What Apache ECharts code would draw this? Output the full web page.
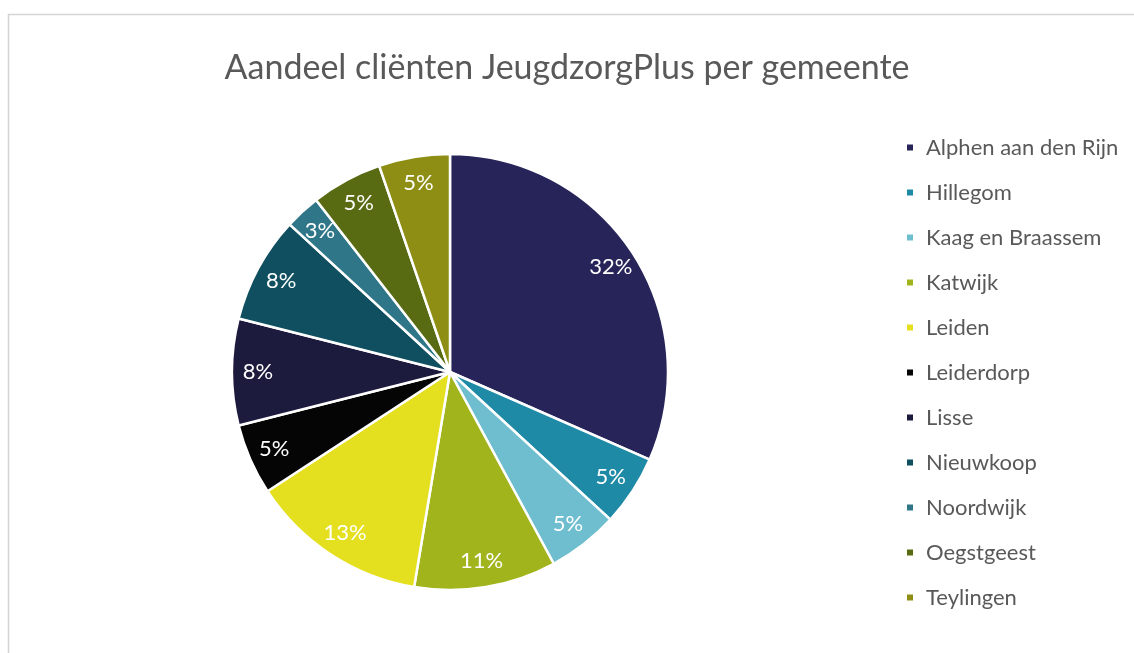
<!DOCTYPE html>
<html>
<head>
<meta charset="utf-8">
<title>Aandeel cliënten JeugdzorgPlus per gemeente</title>
<script src="https://cdn.jsdelivr.net/npm/echarts@6/dist/echarts.min.js"></script>
<style>
  html, body { margin: 0; padding: 0; background: #fff; }
  #chart { width: 1134px; height: 653px; }
</style>
</head>
<body>
<div id="chart"></div>
<script>
var gemeenten = ['Alphen aan den Rijn', 'Hillegom', 'Kaag en Braassem', 'Katwijk', 'Leiden',
  'Leiderdorp', 'Lisse', 'Nieuwkoop', 'Noordwijk', 'Oegstgeest', 'Teylingen'];
var aantallen = [12, 2, 2, 4, 5, 2, 3, 3, 1, 2, 2];
var kleuren = ['#272459', '#1f8aa6', '#6fbecf', '#a2b41c', '#e4e01f',
  '#050505', '#1c1a3d', '#0f4f5f', '#2f7688', '#586b12', '#8e8e14'];

var fontFam = 'Lato, "Noto Sans", sans-serif';

var pieData = [];
for (var i = 0; i < gemeenten.length; i++) {
  pieData.push({ name: gemeenten[i], value: aantallen[i] });
}

var dom = document.getElementById('chart');
var chart = echarts.init(dom, null, { renderer: 'canvas' });

var option = {
  animation: false,
  backgroundColor: '#fff',
  color: kleuren,
  title: {
    text: 'Aandeel cliënten JeugdzorgPlus per gemeente',
    left: 'center',
    top: 46,
    textStyle: {
      fontFamily: fontFam,
      fontSize: 34,
      fontWeight: 'normal',
      color: '#595959'
    }
  },
  legend: {
    orient: 'vertical',
    left: 905,
    top: 136,
    padding: 0,
    icon: 'rect',
    itemWidth: 8,
    itemHeight: 8,
    itemGap: 22,
    data: gemeenten,
    textStyle: {
      fontFamily: fontFam,
      fontSize: 22,
      lineHeight: 23,
      color: '#595959',
      padding: [0, 0, 0, 7]
    }
  },
  // dunne grijze rand van het grafiekgebied (alleen boven en links zichtbaar)
  graphic: [{
    type: 'rect',
    silent: true,
    shape: { x: 8.5, y: 14.5, width: 1300, height: 800 },
    style: { fill: 'none', stroke: '#d4d4d4', lineWidth: 1.5 }
  }],
  series: [
    {
      name: 'gemeente',
      type: 'pie',
      center: [450, 372],
      radius: 218,
      startAngle: 90,
      clockwise: true,
      label: { show: false },
      labelLine: { show: false },
      itemStyle: { borderColor: '#fff', borderWidth: 2.5 },
      emphasis: { disabled: true },
      data: pieData
    },
    {
      // onzichtbare ring, alleen voor de plek van de percentages
      name: 'labels',
      type: 'pie',
      center: [450, 372],
      radius: [160, 218],
      startAngle: 90,
      clockwise: true,
      silent: true,
      itemStyle: { color: 'transparent' },
      label: {
        show: true,
        position: 'inside',
        formatter: function (p) { return Math.round(p.percent) + '%'; },
        fontFamily: fontFam,
        fontSize: 22,
        color: '#fff'
      },
      labelLine: { show: false },
      emphasis: { disabled: true },
      data: pieData
    }
  ]
};

chart.setOption(option);
</script>
</body>
</html>
